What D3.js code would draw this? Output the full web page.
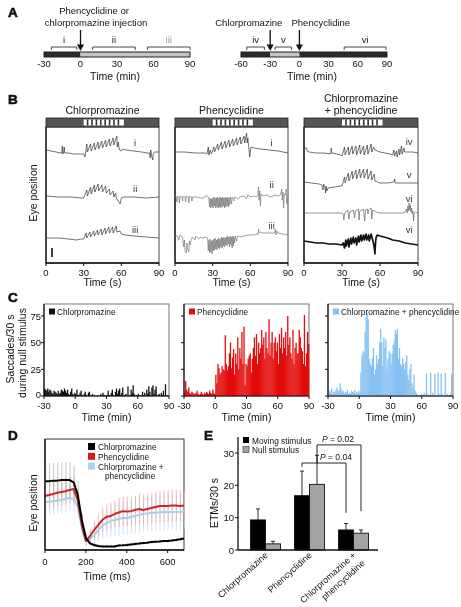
<!DOCTYPE html>
<html><head><meta charset="utf-8">
<script src="https://cdn.jsdelivr.net/npm/d3@7"></script>
<style>body{margin:0;background:#fff}svg{display:block;will-change:transform}text{font-family:"Liberation Sans",Arial,sans-serif;fill:#111}</style>
</head><body><svg id="c" width="461" height="607"></svg>
<script>
// ---------------- DATA ----------------
// Panel A
const aTicksLeft = [-30, 0, 30, 60, 90];
const aSegLeft = [[-30, 0, "dark"], [0, 90, "light"]];
const aBracketsLeft = [["i", -24, -3], ["ii", 10, 45], ["iii", 55, 90]];
const aArrowsLeft = [0];
const aTicksRight = [-60, -30, 0, 30, 60, 90];
const aSegRight = [[-60, -30, "dark"], [-30, 0, "light"], [0, 90, "dark"]];
const aBracketsRight = [["iv", -54, -36], ["v", -25, -8], ["vi", 46, 89]];
const aArrowsRight = [-30, 0];

// Panel B
const bTitles = [["Chlorpromazine"], ["Phencyclidine"], ["Chlorpromazine", "+ phencyclidine"]];
const bTicks = [0, 30, 60, 90];
const bStimOn = [30, 62];
const bStimStripes = [32.5, 36, 39.5, 43, 46.5, 50, 53.5, 57];
const bLabels = [["i", "ii", "iii"], ["i", "ii", "iii"], ["iv", "v", "vi", "vi"]];
const bOffsets = [[112, 66, 25], [111, 65, 26], [111, 80, 50, 21]];
const b1i = [0,1, 4,0, 8,-1, 12,-2, 12.6,-2, 13,5, 13.3,-3, 14,-2, 14.5,4, 15,-2, 18,-2, 22,-3, 26,-3, 30,-3, 31,-6, 32.5,7, 33,-1, 35.5,7, 36,0, 38.5,8, 39,1, 41.5,9, 42,2, 44.5,10, 45,3, 47.5,11, 48,4, 50.5,12, 51,5, 53.5,13, 54,6, 56.4,15, 56.8,4, 57.5,9, 58.5,1, 60,0, 61,2, 64,1, 70,0, 76,-1, 81,-2, 82.5,-2, 83,-7, 83.4,1, 84,-4, 85,-9, 85.4,-3, 86.5,-1, 90,-1];
const b1ii = [0,1, 10,0, 20,0, 28,-1, 30,-1, 32.5,7, 33,1, 35.5,10, 36,3, 38.5,12, 39,5, 41.5,13, 42,6, 44.5,12, 45,5, 47.5,11, 48,4, 50.5,8, 51,2, 53.5,6, 54,0, 55.5,4, 56,-1, 58,-5, 59,-7, 60,-1, 62,0, 70,0, 80,-1, 90,0];
const b1iii = [0,0, 10,0, 18,-1, 24,-2, 28,-1, 30,-1, 32,5, 32.5,0, 35,6, 35.5,1, 38,7, 38.5,2, 41,8, 41.5,3, 44,9, 44.5,3, 47,10, 47.5,4, 50,11, 50.5,5, 53,11, 53.5,5, 56,12, 56.5,6, 59,7, 60,4, 63,3, 70,2, 80,1, 90,0];
const b2i = [0,0, 8,0, 16,-1, 24,-1, 25.5,-2, 26.5,5, 27,-3, 28,2, 29,-2, 31,5, 31.5,0, 34,8, 34.5,2, 37,10, 37.5,3, 40,11, 40.5,4, 43,12, 43.5,5, 46,13, 46.5,6, 49,14, 49.5,7, 52,15, 52.5,8, 55,16, 55.5,9, 57,19, 57.5,9, 58,14, 59.5,-5, 60.5,5, 63,4, 68,3, 75,2, 82,1, 90,-1];
const b2ii = [0,3, 1,1, 1.5,-4, 2,2, 3,1, 3.5,-5, 4,2, 5.5,1, 6,-3, 6.5,2, 8,1, 8.5,-4, 9,2, 10.5,1, 11,-5, 11.5,2, 13,1, 13.5,-3, 14,1, 17,1, 20,0, 23,0, 24,2, 26,2, 27,-1, 27.5,-9, 28,0, 28.5,-10, 29,-1, 29.5,-9, 30,0, 30.5,-10, 31,1, 31.5,-8, 32,0, 32.5,-10, 33,0, 33.5,-9, 34,1, 34.5,-10, 35,0, 35.5,-9, 36,1, 36.5,-10, 37,0, 37.5,-9, 38,1, 38.5,-8, 39,0, 39.5,-10, 40,1, 40.5,-9, 41,0, 41.5,-8, 42,1, 42.5,-9, 43,0, 43.5,-7, 44,1, 45,-6, 45.5,1, 47,-3, 47.5,1, 50,-1, 52,1, 55,2, 57,-1, 58,3, 60,1, 63,2, 65,1, 66,3, 66.5,11, 67,-2, 67.5,7, 68,-8, 68.5,4, 70,2, 73,3, 76,1, 78,2, 80,3, 82,2, 84,3, 85,9, 85.5,-2, 86,6, 86.5,-10, 87,4, 88,3, 88.5,9, 89,-6, 90,2];
const b2iii = [0,1, 2,1, 3,-3, 4,2, 6,0, 7,-10, 7.5,-3, 8,-14, 9,-16, 9.5,-6, 10,-12, 11,-15, 11.5,-4, 12,-8, 13,-2, 14,0, 16,-3, 16.5,1, 19,-2, 20,0, 22,-1, 25,0, 26,-1, 26.5,-14, 27,-3, 27.5,-16, 28,-2, 28.5,-15, 29,-4, 29.5,-17, 30,-3, 30.5,-14, 31,-2, 31.5,-13, 32,-1, 32.5,-12, 33,-3, 33.5,-13, 34,-2, 34.5,-11, 35,-1, 35.5,-12, 36,-2, 36.5,-10, 37,0, 37.5,-11, 38,-1, 38.5,-9, 39,0, 39.5,-10, 40,-1, 40.5,-8, 41,0, 41.5,-9, 42,1, 42.5,-7, 43,0, 43.5,-10, 44,1, 44.5,-8, 45,0, 45.5,-11, 46,1, 46.5,-9, 47,0, 47.5,-6, 48,1, 49,-4, 50,1, 52,0, 55,1, 58,2, 60,2, 63,2, 65,3, 66,2, 66.5,8, 67,4, 68,5, 70,4, 75,4, 79,4, 80,8, 80.5,2, 81,6, 82,4, 86,3, 90,2];
const b3iv = [0,4, 2,4, 2.5,1, 4,0, 10,-1, 16,-1, 21,-2, 21.5,4, 22,-1, 26,-2, 29,-3, 30,-4, 32,5, 32.5,-3, 35,5, 35.5,-3, 38,6, 38.5,-2, 41,6, 41.5,-3, 44,7, 44.5,-2, 47,6, 47.5,-3, 50,7, 50.5,-2, 53,8, 53.5,0, 55,5, 56,2, 58,1, 60,0, 64,-1, 68,-2, 70,-3, 71,2, 71.5,-4, 73,1, 73.5,-5, 75,3, 75.5,-3, 77,6, 77.5,-2, 79,4, 79.5,0, 82,0, 86,0, 90,-1];
const b3v = [0,1, 6,0, 12,-1, 14,-2, 15,-7, 15.5,-1, 16.5,-4, 17,-10, 17.5,-3, 18,-8, 19,-5, 24,-4, 29,-3, 30,-3, 32,6, 32.5,0, 35,10, 35.5,2, 38,12, 38.5,4, 41,13, 41.5,4, 44,14, 44.5,5, 47,14, 47.5,5, 50,14, 50.5,4, 53,12, 53.5,3, 55.5,9, 56,2, 58,1, 60,0, 66,0, 71,1, 71.5,4, 72,0, 80,0, 90,0];
const b3vi = [0,0, 10,0, 20,0, 30,0, 31,-1, 31.5,-7, 32,-1, 33,1, 34.5,3, 35,-2, 35.5,-6, 36,1, 38,2, 39,3, 39.5,-1, 40,-5, 40.5,2, 42,3, 43,4, 43.5,-7, 44,2, 46,3, 47,4, 47.5,-3, 48,-8, 48.5,3, 50,4, 50.5,-1, 51,3, 53,5, 53.5,-6, 54,3, 56,2, 57,1, 60,0, 65,0, 70,0, 78,0, 80,1, 81,4, 81.5,0, 82,7, 82.5,2, 83,10, 83.5,3, 84,8, 84.5,1, 85,5, 85.5,-1, 86,2, 86.5,-8, 87,0, 88,1, 90,0];
const b3viBold = [0,1, 5,0, 10,-1, 15,-1, 20,-2, 25,-2, 30,-3, 31,-1, 32,-6, 33,2, 33.5,-4, 35,3, 35.5,-5, 37,4, 37.5,-2, 39,5, 39.5,-1, 41,4, 41.5,-3, 43,6, 43.5,0, 45,7, 45.5,1, 47,7, 47.5,2, 49,8, 49.5,2, 51,7, 51.5,1, 53,8, 54,3, 55,-2, 55.5,-6, 56,-12, 56.5,0, 57,5, 58,7, 60,6, 63,5, 66,4, 70,2, 75,1, 80,-1, 85,-2, 90,-3];

// Panel C (saccades per 30 s, 1-min bins from -30 to 89 min)
const cTicksX = [-30, 0, 30, 60, 90];
const cTicksY = [0, 25, 50, 75];
const cSeriesNames = ["Chlorpromazine", "Phencyclidine", "Chlorpromazine + phencyclidine"];
const cCpz = [7,6,5,7,4,6,5,3,2,5, 4,3,2,5,2,3,6,5,4,7, 5,3,6,2,1,4,7,2,1,3, 2,6,1,1,3,5,1,0,2,4, 1,0,3,4,0,1,2,0,1,0, 0,1,0,0,2,0,3,1,0,1, 0,5,1,0,3,6,1,0,4,7, 2,5,7,1,3,8,0,1,2,0, 9,1,0,6,3,10,2,0,1,0, 2,0,1,0,4,1,3,0,6,2, 9,4,0,8,10,2,6,9,0,1, 2,0,3,1,5,0,11,0,1,0];
const cPcp = [3,14,6,4,8,3,2,4,3,2, 2,3,5,2,1,2,4,2,1,3, 2,4,3,2,5,3,2,6,3,2, 20,12,30,26,20,22,28,25,24,57, 30,24,28,40,50,26,36,44,20,40, 30,55,25,45,35,60,30,65,10,30, 28,35,38,40,22,35,45,55,38,58, 30,50,40,45,62,48,55,35,60,45, 40,72,38,50,60,35,50,55,42,50, 30,58,45,64,40,55,45,60,38,75, 48,55,40,35,62,30,45,50,40,40, 62,55,45,42,30,76,28,40,60,49];
const cCombo = [2,5,3,7,2,4,3,6,8,5, 5,12,7,3,5,2,4,3,6,2, 3,2,5,4,3,6,2,4,3,5, 3,22,38,42,40,60,74,78,72,35, 30,28,35,45,20,25,38,30,35,50, 63,50,28,55,45,53,25,35,42,40, 30,40,48,52,62,58,63,35,45,30, 28,35,30,25,32,38,20,15,25,30, 12,8,20,5,3,2,0,1,0,2, 0,2,3,0,21,2,1,0,22,0, 3,0,21,1,0,22,2,0,21,2, 0,1,22,0,2,0,1,2,21,0];

// Panel D (mean eye position, ms)
const dTime = [0,20,40,60,80,100,120,140,160,180,200,220,240,260,280,300,320,340,360,380,400,420,440,460,480,500,520,540,560,580,600,620,640,660,680];
const dCpz = [62,62,62.5,62.5,63,63,63,61,50,27,11,6,4.5,3.6,3.2,3.2,3.2,3.2,4,4.2,4.5,5,5.4,5.8,6.3,6.6,7.2,7.5,7.7,8,8.1,8.5,9,9.6,10.4];
const dCpzErr = [16,16,16,16,16,16,16,15,12,6,3,1.5,1.5,1.5,1.5,1.5,1.5,1.5,1.5,1.5,1.5,1.5,1.5,1.5,1.5,1.5,1.5,1.5,1.5,1.5,1.5,1.5,1.5,1.5,1.5];
const dPcp = [48.6,49.5,50.5,51.5,52.3,53,54,55,45,22.5,8.1,12.6,18,22.5,27,29.7,30.6,32.4,33.8,35,34.7,35,36,37,36,37,37.8,38.7,39.6,39.6,39.6,40,40,39.6,40];
const dPcpErr = [12,12,12,12,12,12,12,12,10,8,4,6,8,10,11,12,12,12,13,13,13,13,13,14,14,14,14,14,14,14,14,14,14,14,14];
const dCombo = [43,43.5,44,44.5,45,46,47,46,38.7,20,8.1,10,13.5,18,21.6,24.3,26,27,28,28.8,28.8,29.7,30.6,31.5,32.4,33,33.3,33.6,34,34,34.2,34.2,34.2,34.5,35];
const dComboErr = [12,12,12,12,12,12,12,12,10,8,4,6,8,10,12,13,14,14,15,15,15,15,16,16,16,16,16,16,16,16,16,16,16,16,16];
const dTicks = [0, 200, 400, 600];
const dLegend = [["Chlorpromazine"], ["Phencyclidine"], ["Chlorpromazine +", "phencyclidine"]];

// Panel E (ETMs/30 s)
const eCategories = ["Chlorpromazine", "Phencyclidine", "Chlorpromazine + phencyclidine"];
const eCategoryLines = [["Chlorpromazine"], ["Phencyclidine"], ["Chlorpromazine +", "phencyclidine"]];
const eMoving = [9.3, 16.8, 6.2];
const eMovingErr = [3.4, 7.6, 2.0];
const eNull = [1.9, 20.3, 5.2];
const eNullErr = [0.8, 9.0, 1.0];
const eTicks = [0, 10, 20, 30];
const eSigText = ["P = 0.04", "P = 0.02"];
const eSigSeries = ["moving", "null"];
const eSigFrom = [1, 1];
const eSigTo = [2, 2];
const eSigLevel = [26.9, 32.5];
const eSigLegRight = [11.5, 12];

// ---------------- DRAW ----------------
const svg = d3.select("#c");
const pairs = a => d3.range(0, a.length, 2).map(i => [a[i], a[i + 1]]);
function text(g, x, y, s, size, anchor, extra) {
  const t = g.append("text").attr("x", x).attr("y", y).attr("font-size", size)
    .attr("text-anchor", anchor || "start").text(s);
  if (extra) extra(t);
  return t;
}
function letter(x, y, s) {
  text(svg, x, y, s, 13.5, "start", t => t.attr("font-weight", 900).style("stroke", "#111").style("stroke-width", 0.6));
}
letter(8, 17, "A"); letter(8, 104, "B"); letter(8, 302, "C"); letter(8, 440, "D"); letter(204, 440, "E");

// ---- Panel A ----
function timeline(x, segs, ticks, brackets, arrows) {
  const g = svg.append("g");
  const y0 = 52, h = 5;
  segs.forEach(s => g.append("rect").attr("x", x(s[0])).attr("y", y0).attr("width", x(s[1]) - x(s[0])).attr("height", h)
    .attr("fill", s[2] === "dark" ? "#2b2b2b" : "#c4c4c4"));
  g.append("rect").attr("x", x.range()[0]).attr("y", y0).attr("width", x.range()[1] - x.range()[0]).attr("height", h)
    .attr("fill", "none").attr("stroke", "#222").attr("stroke-width", 1);
  ticks.forEach(t => text(g, x(t), 67, t, 9.5, "middle"));
  text(g, (x.range()[0] + x.range()[1]) / 2 - 2, 79.5, "Time (min)", 10.5, "middle");
  brackets.forEach(b => {
    g.append("path").attr("d", `M${x(b[1])},50V47H${x(b[2])}V50`).attr("fill", "none").attr("stroke", "#333").attr("stroke-width", 0.9);
    text(g, (x(b[1]) + x(b[2])) / 2, 43, b[0], 9.5, "middle", t => t.style("fill", b[0] === "iii" ? "#999" : "#222"));
  });
  arrows.forEach(a => {
    const ax = x(a);
    g.append("line").attr("x1", ax).attr("x2", ax).attr("y1", 30).attr("y2", 46).attr("stroke", "#111").attr("stroke-width", 1.3);
    g.append("path").attr("d", `M${ax - 3.5},44.5L${ax + 3.5},44.5L${ax},51Z`).attr("fill", "#111");
  });
  return g;
}
const xA1 = d3.scaleLinear([-30, 90], [44, 190]);
const xA2 = d3.scaleLinear([-60, 90], [241, 387]);
timeline(xA1, aSegLeft, aTicksLeft, aBracketsLeft, aArrowsLeft);
timeline(xA2, aSegRight, aTicksRight, aBracketsRight, aArrowsRight);
text(svg, 94, 14, "Phencyclidine or", 9.5, "middle");
text(svg, 96, 25.5, "chlorpromazine injection", 9.5, "middle");
text(svg, xA2(-52), 25.5, "Chlorpromazine", 9.5, "middle");
text(svg, xA2(22), 25.5, "Phencyclidine", 9.5, "middle");

// ---- Panel B ----
const bPanelX = [[46, 159], [175, 288], [304, 418]];
const bTraces = [[b1i, b1ii, b1iii], [b2i, b2ii, b2iii], [b3iv, b3v, b3vi, b3viBold]];
const bStroke = [["#333", "#333", "#333"], ["#333", "#777", "#777"], ["#333", "#333", "#666", "#111"]];
const bWidth = [[0.7, 0.7, 0.7], [0.7, 0.7, 0.7], [0.7, 0.7, 0.7, 1.7]];
const bLabelRaise = [[5, 5, 5], [6, 10, 8], [7, 5, 11, 9]];
const yB = d3.scaleLinear([0, 136], [263, 127]);
bPanelX.forEach((px, k) => {
  const g = svg.append("g");
  const x = d3.scaleLinear([0, 90], px);
  g.append("rect").attr("x", px[0]).attr("y", 127).attr("width", px[1] - px[0]).attr("height", 136)
    .attr("fill", "none").attr("stroke", "#333").attr("stroke-width", 0.9);
  g.append("line").attr("x1", px[0]).attr("x2", px[0]).attr("y1", 127).attr("y2", 263).attr("stroke", "#111").attr("stroke-width", 1.3);
  g.append("line").attr("x1", px[0]).attr("x2", px[1]).attr("y1", 263).attr("y2", 263).attr("stroke", "#111").attr("stroke-width", 1.3);
  g.append("rect").attr("x", px[0]).attr("y", 118).attr("width", px[1] - px[0]).attr("height", 9).attr("fill", "#555").attr("stroke", "#222").attr("stroke-width", 0.8);
  g.append("rect").attr("x", x(bStimOn[0])).attr("y", 119.5).attr("width", x(bStimOn[1]) - x(bStimOn[0])).attr("height", 6).attr("fill", "#fff");
  bStimStripes.forEach(s => g.append("rect").attr("x", x(s)).attr("y", 119.5).attr("width", 1.6).attr("height", 6).attr("fill", "#333"));
  const tl = bTitles[k];
  tl.forEach((s, i) => text(g, (px[0] + px[1]) / 2, 114 - (tl.length - 1 - i) * 12, s, 10.5, "middle"));
  const line = d3.line().x(d => x(d[0]));
  bTraces[k].forEach((tr, i) => {
    const off = bOffsets[k][i];
    g.append("path").attr("d", line.y(d => yB(off + d[1]))(pairs(tr)))
      .attr("fill", "none").attr("stroke", bStroke[k][i]).attr("stroke-width", bWidth[k][i]).attr("stroke-linejoin", "round");
    const lx = k === 0 ? x(71) : k === 1 ? x(77) : x(83);
    text(g, lx, yB(off) - bLabelRaise[k][i], bLabels[k][i], 9.5, "middle", t => t.style("fill", "#333"));
  });
  bTicks.forEach(t => {
    g.append("line").attr("x1", x(t)).attr("x2", x(t)).attr("y1", 263).attr("y2", 266).attr("stroke", "#111");
    text(g, x(t), 275.5, t, 9.5, "middle");
  });
  text(g, (px[0] + px[1]) / 2, 286, "Time (s)", 10.5, "middle");
});
svg.append("line").attr("x1", 52).attr("x2", 52).attr("y1", yB(15)).attr("y2", yB(6)).attr("stroke", "#111").attr("stroke-width", 1.6);
text(svg, 0, 0, "Eye position", 10.5, "middle", t => t.attr("transform", "translate(37,193) rotate(-90)"));

// ---- Panel C ----
const cPanelX = [[44, 169], [184, 309], [328, 453]];
const cData = [cCpz, cPcp, cCombo];
const cColors = ["#111", "#e30b0b", "#85c1f2"];
const yC = d3.scaleLinear([0, 75], [396, 316]);
cPanelX.forEach((px, k) => {
  const g = svg.append("g");
  const x = d3.scaleLinear([-30, 90], px);
  g.append("rect").attr("x", px[0]).attr("y", 304).attr("width", px[1] - px[0]).attr("height", 92)
    .attr("fill", "none").attr("stroke", "#666").attr("stroke-width", 0.9);
  g.selectAll("rect.bar").data(cData[k]).enter().append("rect")
    .attr("x", (d, i) => x(-30 + i)).attr("width", (d, i) => x(-29 + i) - x(-30 + i) + 0.25)
    .attr("y", d => yC(d)).attr("height", d => yC(0) - yC(d)).attr("fill", cColors[k]);
  g.append("line").attr("x1", px[0]).attr("x2", px[0]).attr("y1", 304).attr("y2", 396).attr("stroke", "#111").attr("stroke-width", 1.2);
  g.append("line").attr("x1", px[0]).attr("x2", px[1]).attr("y1", 396).attr("y2", 396).attr("stroke", "#111").attr("stroke-width", 1.2);
  cTicksY.forEach(t => {
    g.append("line").attr("x1", px[0] - 3).attr("x2", px[0]).attr("y1", yC(t)).attr("y2", yC(t)).attr("stroke", "#111");
    if (k === 0) text(g, px[0] - 3, yC(t) + (t === 0 ? 2 : 3.5), t, 9.5, "end");
  });
  cTicksX.forEach(t => {
    g.append("line").attr("x1", x(t)).attr("x2", x(t)).attr("y1", 396).attr("y2", 399).attr("stroke", "#111");
    text(g, x(t), 408.5, t, 9.5, "middle");
  });
  text(g, (px[0] + px[1]) / 2, 421, "Time (min)", 10.5, "middle");
  g.append("rect").attr("x", px[0] + 5).attr("y", 308.5).attr("width", 6).attr("height", 6).attr("fill", cColors[k]);
  text(g, px[0] + 13, 315, cSeriesNames[k], 8.3, "start");
});
text(svg, 0, 0, "Saccades/30 s", 10.5, "middle", t => t.attr("transform", "translate(14,349) rotate(-90)"));
text(svg, 0, 0, "during null stimulus", 10.5, "middle", t => t.attr("transform", "translate(26,353) rotate(-90)"));

// ---- Panel D ----
{
  const g = svg.append("g");
  const x = d3.scaleLinear([0, 680], [45, 184]);
  const y = d3.scaleLinear([0, 100], [550, 439]);
  g.append("rect").attr("x", 45).attr("y", 439).attr("width", 139).attr("height", 111).attr("fill", "none").attr("stroke", "#222").attr("stroke-width", 0.9);
  const series = [[dCombo, dComboErr, "#b9d9f1", "#a9cdec"], [dPcp, dPcpErr, "#e7a2a2", "#c8262b"], [dCpz, dCpzErr, "#aaaaaa", "#000"]];
  series.forEach(s => {
    dTime.forEach((t, i) => g.append("line").attr("x1", x(t) + 0.5).attr("x2", x(t) + 0.5)
      .attr("y1", y(s[0][i] - s[1][i])).attr("y2", y(s[0][i] + s[1][i])).attr("stroke", s[2]).attr("stroke-width", 0.7));
  });
  const ln = d3.line().x((d, i) => x(dTime[i])).y(d => y(d));
  series.forEach(s => g.append("path").attr("d", ln(s[0])).attr("fill", "none").attr("stroke", s[3]).attr("stroke-width", 2).attr("stroke-linejoin", "round"));
  g.append("line").attr("x1", 45).attr("x2", 45).attr("y1", 439).attr("y2", 550).attr("stroke", "#111").attr("stroke-width", 1.3);
  g.append("line").attr("x1", 45).attr("x2", 184).attr("y1", 550).attr("y2", 550).attr("stroke", "#111").attr("stroke-width", 1.3);
  dTicks.forEach(t => {
    g.append("line").attr("x1", x(t)).attr("x2", x(t)).attr("y1", 550).attr("y2", 553).attr("stroke", "#111");
    text(g, x(t), 565, t, 9.5, "middle");
  });
  text(g, 107, 580, "Time (ms)", 10.5, "middle");
  text(g, 0, 0, "Eye position", 10.5, "middle", t => t.attr("transform", "translate(37,503) rotate(-90)"));
  const legCol = ["#000", "#d8161b", "#a9d2f0"];
  dLegend.forEach((l, i) => {
    g.append("rect").attr("x", 88).attr("y", 443 + i * 9.8).attr("width", 7).attr("height", 7).attr("fill", legCol[i]);
    text(g, 98, 450 + i * 9.8, l[0], 8.3, "start");
    if (l[1]) text(g, 105, 450 + (i + 1) * 9.5, l[1], 8.3, "start");
  });
}

// ---- Panel E ----
{
  const g = svg.append("g");
  const y = d3.scaleLinear([0, 30], [550, 453]);
  const x0 = d3.scaleBand(eCategories, [243.5, 375.5]);
  const x1 = d3.scaleBand(["moving", "null"], [7, 37]);
  const vals = {moving: [eMoving, eMovingErr, "#000"], null: [eNull, eNullErr, "#a3a3a3"]};
  eCategories.forEach((c, i) => {
    ["moving", "null"].forEach(s => {
      const v = vals[s][0][i], e = vals[s][1][i];
      const bx = x0(c) + x1(s), cx = bx + x1.bandwidth() / 2;
      g.append("line").attr("x1", cx).attr("x2", cx).attr("y1", y(v)).attr("y2", y(v + e)).attr("stroke", "#111").attr("stroke-width", 0.9);
      g.append("line").attr("x1", cx - 2).attr("x2", cx + 2).attr("y1", y(v + e)).attr("y2", y(v + e)).attr("stroke", "#111").attr("stroke-width", 0.9);
      g.append("rect").attr("x", bx).attr("y", y(v)).attr("width", x1.bandwidth()).attr("height", y(0) - y(v))
        .attr("fill", vals[s][2]).attr("stroke", "#111").attr("stroke-width", 0.9);
    });
  });
  g.append("line").attr("x1", 238).attr("x2", 238).attr("y1", 437).attr("y2", 550).attr("stroke", "#111").attr("stroke-width", 1.3);
  g.append("line").attr("x1", 238).attr("x2", 378).attr("y1", 550).attr("y2", 550).attr("stroke", "#111").attr("stroke-width", 1.3);
  eTicks.forEach(t => {
    g.append("line").attr("x1", 235).attr("x2", 238).attr("y1", y(t)).attr("y2", y(t)).attr("stroke", "#111");
    text(g, 234, y(t) + 3.5, t, 9.5, "end");
  });
  text(g, 0, 0, "ETMs/30 s", 10.5, "middle", t => t.attr("transform", "translate(218,503) rotate(-90)"));
  eCategoryLines.forEach((ls, i) => {
    const cx = x0(eCategories[i]) + x0.bandwidth() / 2 + 3;
    ls.forEach((l, j) => text(g, 0, 0, l, 9, "end", t => t.attr("transform", `translate(${cx + j * 9},${556 + j * 8}) rotate(-42)`)));
  });
  eSigText.forEach((s, i) => {
    const xa = x0(eCategories[eSigFrom[i]]) + x1(eSigSeries[i]) + x1.bandwidth() / 2;
    const xb = x0(eCategories[eSigTo[i]]) + x1(eSigSeries[i]) + x1.bandwidth() / 2;
    const leftEnd = i === 0 ? eSigLevel[0] - 1.2 : eSigLevel[0];
    g.append("path").attr("d", `M${xa},${y(leftEnd)}V${y(eSigLevel[i])}H${xb}V${y(eSigLegRight[i])}`)
      .attr("fill", "none").attr("stroke", "#111").attr("stroke-width", 0.9);
    const tx = i === 0 ? xa + 18 : xa + 5;
    const t = g.append("text").attr("x", tx).attr("y", y(eSigLevel[i]) - 3).attr("font-size", 8.5);
    t.append("tspan").attr("font-style", "italic").text("P");
    t.append("tspan").text(s.slice(1));
  });
  g.append("rect").attr("x", 243).attr("y", 437).attr("width", 6).attr("height", 6).attr("fill", "#000");
  text(g, 252, 443.5, "Moving stimulus", 8.3, "start");
  g.append("rect").attr("x", 243).attr("y", 446.5).attr("width", 6).attr("height", 6).attr("fill", "#a3a3a3").attr("stroke", "#333").attr("stroke-width", 0.6);
  text(g, 252, 453, "Null stimulus", 8.3, "start");
}
</script></body></html>
